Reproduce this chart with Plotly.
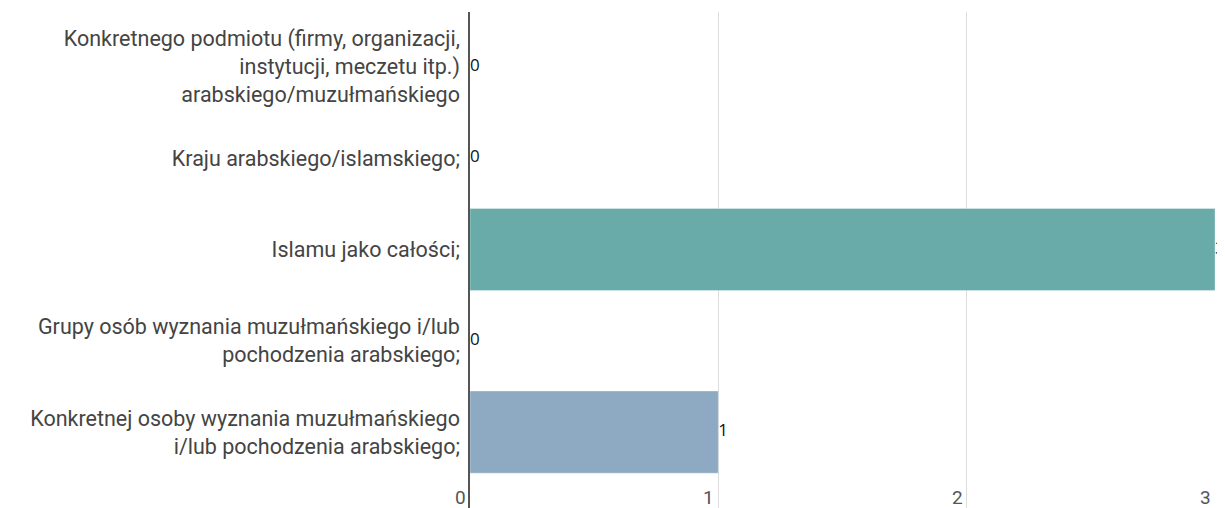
import plotly.graph_objects as go

categories = [
    "Konkretnej osoby wyznania muzułmańskiego<br>i/lub pochodzenia arabskiego;",
    "Grupy osób wyznania muzułmańskiego i/lub<br>pochodzenia arabskiego;",
    "Islamu jako całości;",
    "Kraju arabskiego/islamskiego;",
    "Konkretnego podmiotu (firmy, organizacji,<br>instytucji, meczetu itp.)<br>arabskiego/muzułmańskiego",
]
values = [1, 0, 3, 0, 0]
colors = ["#8eaac3", "#b0b0d8", "#69aba9", "#e0a060", "#a0c080"]
tick_vals = [0, 1, 2, 3]
tick_text = ["0", "1", "2", "3"]

# page body has an 8px margin; figure sized so it fills the 1225x508 window
W, H = 1217, 500
M_L, M_R, M_T, M_B = 462, 10, 4, 0
plot_h = H - M_T - M_B

fig = go.Figure()
fig.add_trace(go.Bar(
    y=categories, x=values, orientation="h",
    marker=dict(color=colors, line=dict(color="rgba(255,255,255,0.35)", width=1)),
    hoverinfo="skip", showlegend=False,
))
fig.add_trace(go.Scatter(
    y=categories, x=values, mode="text",
    text=[str(v) for v in values], textposition="middle right",
    textfont=dict(family="Open Sans", size=17, color="#111"),
    cliponaxis=False, showlegend=False, hoverinfo="skip",
))
for tv, tt in zip(tick_vals, tick_text):
    fig.add_annotation(
        x=tv, xref="x", y=11 / plot_h, yref="paper", yanchor="middle", xanchor="right",
        text=tt, showarrow=False, xshift=-2,
        font=dict(family="Roboto", size=19, color="#555"),
    )
fig.update_layout(
    width=W, height=H,
    margin=dict(l=M_L, r=M_R, t=M_T, b=M_B),
    paper_bgcolor="white", plot_bgcolor="white",
    bargap=0.1,
    font=dict(family="Roboto", size=21.5, color="#444"),
)
fig.update_xaxes(
    range=[0, 3], tickvals=tick_vals, showticklabels=False,
    showgrid=True, gridcolor="#dddddd", gridwidth=1,
    zeroline=False, showline=False, automargin=False,
    fixedrange=True,
)
fig.update_yaxes(
    categoryorder="array", categoryarray=categories,
    range=[-0.831, 4.601],
    showgrid=False, zeroline=False,
    showline=True, linecolor="#555", linewidth=1.5,
    ticks="outside", ticklen=4, tickcolor="rgba(0,0,0,0)",
    tickfont=dict(family="Roboto", size=21.5, color="#444"),
    automargin=False, fixedrange=True,
)
fig.write_html("out.html")
